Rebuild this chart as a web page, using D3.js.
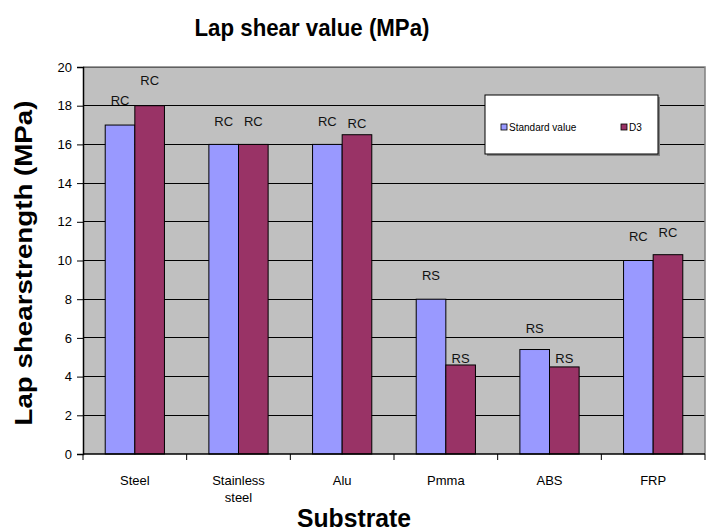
<!DOCTYPE html>
<html><head><meta charset="utf-8">
<script src="https://cdn.jsdelivr.net/npm/d3@7"></script>
<style>
html,body{margin:0;padding:0;background:#fff;}
svg{display:block;}
</style></head>
<body>
<svg id="chart" width="710" height="531"></svg>
<script>
const categories = ["Steel", "Stainless\nsteel", "Alu", "Pmma", "ABS", "FRP"];
const seriesNames = ["Standard value", "D3"];
const standardValues = [17, 16, 16, 8, 5.4, 10];
const d3Values = [18, 16, 16.5, 4.6, 4.5, 10.3];
const standardLabels = ["RC", "RC", "RC", "RS", "RS", "RC"];
const d3Labels = ["RC", "RC", "RC", "RS", "RS", "RC"];
const yTicks = [0, 2, 4, 6, 8, 10, 12, 14, 16, 18, 20];

const colors = ["#9999FF", "#993366"];
const svg = d3.select("#chart");
const L = 83, R = 705, T = 67, B = 454;
const sans = "'Liberation Sans', Arial, sans-serif";

const y = d3.scaleLinear().domain([0, 20]).range([B, T]);
const x0 = d3.scaleBand().domain(categories).range([L, R]).padding(0);
const x1 = d3.scaleBand().domain(seriesNames).range([0, x0.bandwidth()]).paddingInner(0).paddingOuter(0.75);

// plot background
svg.append("rect").attr("x", L).attr("y", T).attr("width", R - L).attr("height", B - T).attr("fill", "#C0C0C0");

// gridlines
svg.append("g").selectAll("line").data(yTicks.filter(d => d > 0)).join("line")
  .attr("x1", L).attr("x2", R).attr("y1", d => y(d)).attr("y2", d => y(d))
  .attr("stroke", "#000").attr("stroke-width", 1).attr("shape-rendering", "crispEdges");

// border top/right
svg.append("path").attr("d", `M${L},${T}H${R}V${B}`).attr("fill", "none")
  .attr("stroke", "#808080").attr("stroke-width", 1.5);

// bars + labels
const rows = categories.map((c, i) => ({ c, vals: [standardValues[i], d3Values[i]], labs: [standardLabels[i], d3Labels[i]] }));
// label lift above bar top (px), as placed in the original chart
const labelLift = [[25, 26], [23, 23], [23, 12], [24, 7], [22, 9], [25, 23]];
const g = svg.append("g");
rows.forEach((r, i) => {
  r.vals.forEach((v, j) => {
    const xx = x0(r.c) + x1(seriesNames[j]);
    g.append("rect").attr("x", xx).attr("y", y(v)).attr("width", x1.bandwidth()).attr("height", y(0) - y(v))
      .attr("fill", colors[j]).attr("stroke", "#000").attr("stroke-width", 1);
    g.append("text").attr("x", xx + x1.bandwidth() / 2).attr("y", y(v) - labelLift[i][j] + 5)
      .attr("text-anchor", "middle").attr("font-family", sans).attr("font-size", 13)
      .attr("fill", "#111").text(r.labs[j]);
  });
});

// y axis
const yAxis = svg.append("g").attr("transform", `translate(${L},0)`)
  .call(d3.axisLeft(y).tickValues(yTicks).tickSize(6).tickPadding(5).tickFormat(d3.format("d")));
yAxis.select(".domain").attr("stroke", "#000").attr("stroke-width", 1.5);
yAxis.selectAll(".tick line").attr("stroke", "#000");
yAxis.selectAll("text").attr("font-family", sans).attr("font-size", 13).attr("fill", "#000");

// x axis
svg.append("line").attr("x1", L).attr("x2", R).attr("y1", B).attr("y2", B).attr("stroke", "#000").attr("stroke-width", 1.5);
const bounds = categories.map(c => x0(c)).concat([R]);
svg.append("g").selectAll("line").data(bounds).join("line")
  .attr("x1", d => d).attr("x2", d => d).attr("y1", B).attr("y2", B + 6).attr("stroke", "#000");
const xl = svg.append("g").selectAll("text").data(categories).join("text")
  .attr("x", d => x0(d) + x0.bandwidth() / 2).attr("y", 485)
  .attr("text-anchor", "middle").attr("font-family", sans).attr("font-size", 13).attr("fill", "#000");
xl.each(function(d) {
  const parts = d.split("\n");
  d3.select(this).selectAll("tspan").data(parts).join("tspan")
    .attr("x", x0(d) + x0.bandwidth() / 2).attr("dy", (p, k) => k === 0 ? 0 : 17).text(p => p);
});

// titles
svg.append("text").attr("x", 312).attr("y", 36).attr("text-anchor", "middle")
  .attr("font-family", sans).attr("font-weight", "bold").attr("font-size", 24).attr("fill", "#000")
  .attr("textLength", 235).attr("lengthAdjust", "spacingAndGlyphs")
  .text("Lap shear value (MPa)");
svg.append("text").attr("x", 354).attr("y", 527).attr("text-anchor", "middle")
  .attr("font-family", sans).attr("font-weight", "bold").attr("font-size", 25).attr("fill", "#000")
  .attr("textLength", 114).attr("lengthAdjust", "spacingAndGlyphs")
  .text("Substrate");
svg.append("text").attr("transform", "translate(32,263) rotate(-90)").attr("text-anchor", "middle")
  .attr("font-family", sans).attr("font-weight", "bold").attr("font-size", 23).attr("fill", "#000")
  .attr("textLength", 325).attr("lengthAdjust", "spacingAndGlyphs")
  .text("Lap shearstrength  (MPa)");

// legend
const lg = svg.append("g");
lg.append("rect").attr("x", 487).attr("y", 97).attr("width", 173).attr("height", 59).attr("fill", "#808080");
lg.append("rect").attr("x", 485).attr("y", 95).attr("width", 173).attr("height", 59).attr("fill", "#fff").attr("stroke", "#000");
const legX = [501, 621];
seriesNames.forEach((s, j) => {
  lg.append("rect").attr("x", legX[j]).attr("y", 124).attr("width", 6).attr("height", 6)
    .attr("fill", colors[j]).attr("stroke", "#000").attr("stroke-width", 0.8);
  lg.append("text").attr("x", legX[j] + 8).attr("y", 130.5).attr("font-family", sans).attr("font-size", 10)
    .attr("fill", "#000").text(s);
});
</script>
</body></html>
